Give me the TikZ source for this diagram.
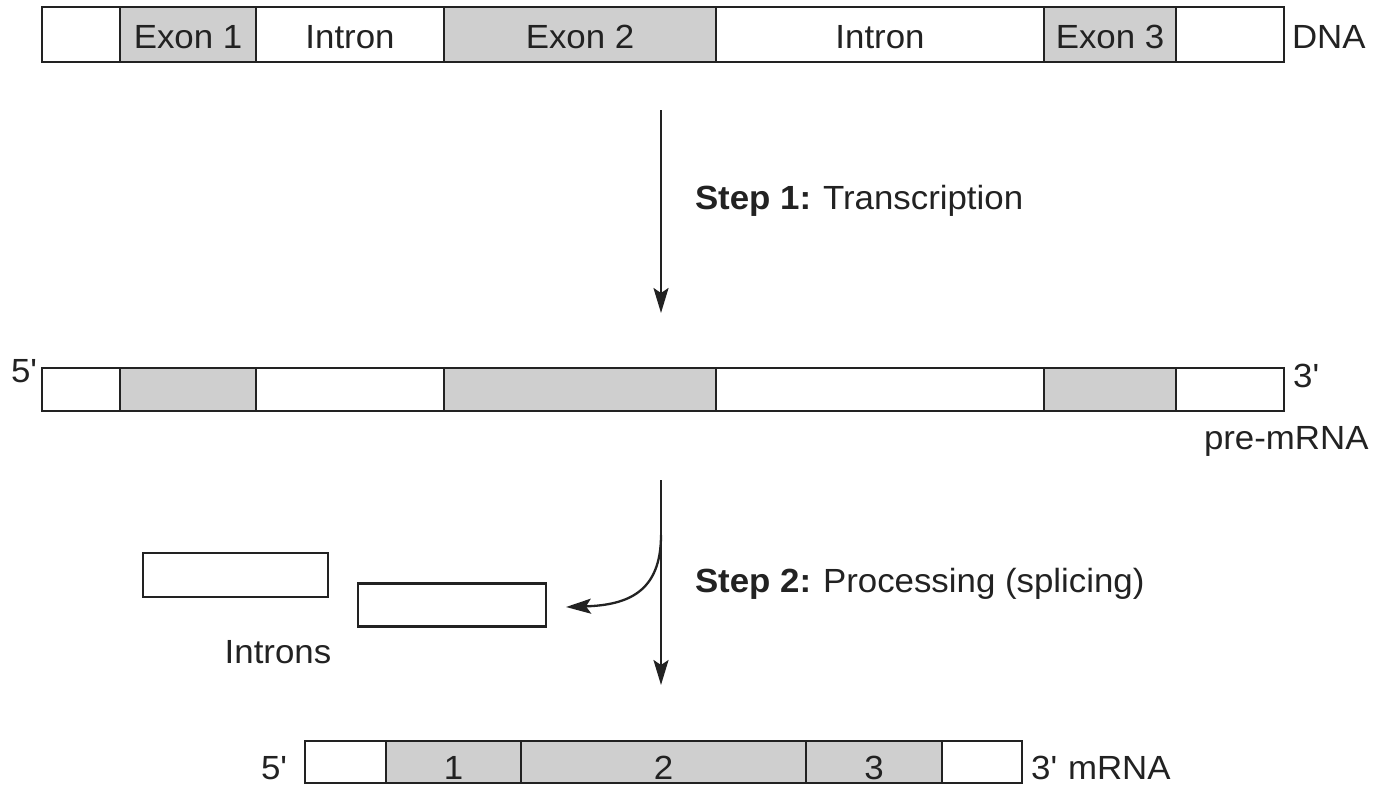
\documentclass[tikz,border=0pt]{standalone}
\usepackage{fontspec}
\setmainfont[FakeStretch=1.04]{Liberation Sans}
\usetikzlibrary{arrows.meta}
\definecolor{ink}{HTML}{222222}
\definecolor{exon}{HTML}{CFCFCF}
\newcommand{\pr}{\textquotesingle}
\begin{document}
\begin{tikzpicture}[x=1pt,y=-1pt,
  font=\fontsize{33.5}{40}\selectfont,
  seg/.style={draw=ink,line width=2.8pt,fill=white,inner sep=0pt,outer sep=0pt,rectangle,text=ink},
  ex/.style={seg,fill=exon},
  lbl/.style={text=ink,inner sep=0pt,outer sep=0pt},
  arr/.style={draw=ink,line width=2.3pt,-{Stealth[length=25pt,width=15pt,inset=5pt]}}]
\useasboundingbox (0,0) rectangle (1383,785);
% DNA
\begin{scope}[every node/.append style={minimum height=55pt}]
\node[seg,minimum width=78pt]  (d1) at (81,34.5) {};
\node[ex, minimum width=136pt] (d2) at (188,34.5) {};
\node[seg,minimum width=188pt] (d3) at (350,34.5) {};
\node[ex, minimum width=272pt] (d4) at (580,34.5) {};
\node[seg,minimum width=328pt] (d5) at (880,34.5) {};
\node[ex, minimum width=132pt] (d6) at (1110,34.5) {};
\node[seg,minimum width=108pt] (d7) at (1230,34.5) {};
\end{scope}
\node[lbl,anchor=base] (t2) at (188,48) {Exon 1};
\node[lbl,anchor=base] (t3) at (350,48) {Intron};
\node[lbl,anchor=base] (t4) at (580,48) {Exon 2};
\node[lbl,anchor=base] (t5) at (880,48) {Intron};
\node[lbl,anchor=base] (t6) at (1110,48) {Exon 3};
\node[lbl,anchor=base west] (dna) at (1292,48) {DNA};
% step 1
\coordinate (s1a) at (661,110);
\coordinate (s1b) at (661,313);
\draw[arr] (s1a) -- (s1b);
\node[lbl,anchor=base west] (st1) at (695,209) {\textbf{Step 1:}\hspace{-1pt} Transcription};
% pre-mRNA
\begin{scope}[every node/.append style={minimum height=43pt}]
\node[seg,minimum width=78pt]  (p1) at (81,389.5) {};
\node[ex, minimum width=136pt] (p2) at (188,389.5) {};
\node[seg,minimum width=188pt] (p3) at (350,389.5) {};
\node[ex, minimum width=272pt] (p4) at (580,389.5) {};
\node[seg,minimum width=328pt] (p5) at (880,389.5) {};
\node[ex, minimum width=132pt] (p6) at (1110,389.5) {};
\node[seg,minimum width=108pt] (p7) at (1230,389.5) {};
\end{scope}
\node[lbl,anchor=base] (pf) at (24,382) {5\pr};
\node[lbl,anchor=base] (pt) at (1306,387) {3\pr};
\node[lbl,anchor=base west] (pre) at (1204,449) {pre-mRNA};
% step 2
\coordinate (s2a) at (661,480);
\coordinate (s2b) at (661,685);
\draw[arr] (s2a) -- (s2b);
\node[seg,minimum width=185pt,minimum height=44pt] (i1) at (235.5,575) {};
\node[seg,minimum width=188pt,minimum height=43pt] (i2) at (452,605) {};
\coordinate (cv0) at (661,535);
\coordinate (cv1) at (566,607);
\draw[arr] (cv0) .. controls (661,592) and (628,605) .. (cv1);
\node[lbl,anchor=base] (intr) at (278,663) {Introns};
\node[lbl,anchor=base west] (st2) at (695,592) {\textbf{Step 2:}\hspace{-1pt} Processing (splicing)};
% mRNA
\begin{scope}[every node/.append style={minimum height=42pt}]
\node[seg,minimum width=81pt]  (m1) at (345.5,762) {};
\node[ex, minimum width=135pt] (m2) at (453.5,762) {};
\node[ex, minimum width=285pt] (m3) at (663.5,762) {};
\node[ex, minimum width=136pt] (m4) at (874,762) {};
\node[seg,minimum width=80pt]  (m5) at (982,762) {};
\end{scope}
\node[lbl,anchor=base] (n1) at (453.5,779) {1};
\node[lbl,anchor=base] (n2) at (663.5,779) {2};
\node[lbl,anchor=base] (n3) at (874,779) {3};
\node[lbl,anchor=base] (mf) at (274,779) {5\pr};
\node[lbl,anchor=base] (mt) at (1044,779) {3\pr};
\node[lbl,anchor=base west] (ml) at (1068,779) {mRNA};
\end{tikzpicture}
\end{document}
